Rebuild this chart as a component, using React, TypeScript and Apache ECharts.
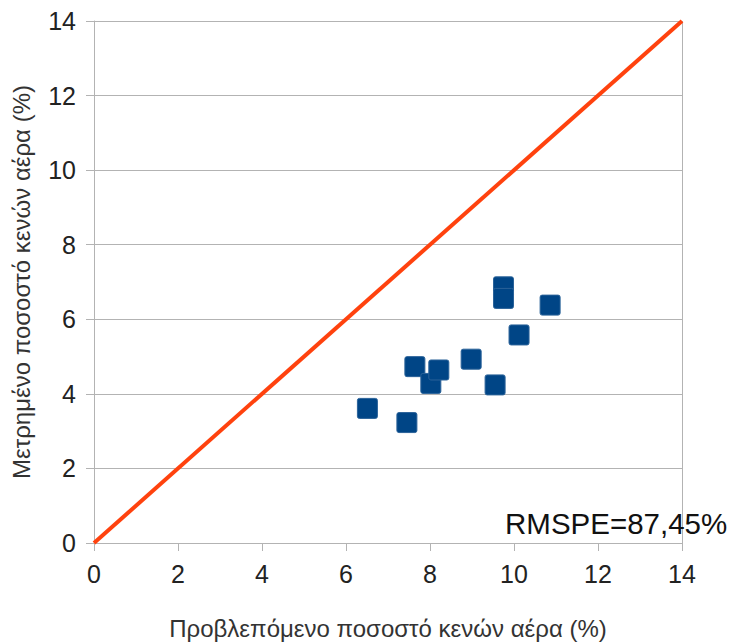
import React, { useEffect, useRef } from "react";
import * as echarts from "echarts";

const predicted = [6.51, 7.45, 7.64, 8.02, 8.21, 8.98, 9.55, 10.12, 9.75, 9.75, 10.86];
const measured = [3.61, 3.23, 4.73, 4.28, 4.64, 4.93, 4.24, 5.58, 6.87, 6.56, 6.38];
const lineX = [0, 14];
const lineY = [0, 14];
const xTitle = "Προβλεπόμενο ποσοστό κενών αέρα (%)";
const yTitle = "Μετρημένο ποσοστό κενών αέρα (%)";
const note = "RMSPE=87,45%";

export default function App() {
  const ref = useRef<HTMLDivElement>(null);
  useEffect(() => {
    const chart = echarts.init(ref.current!, null, { renderer: "svg" });
    const font = "'Liberation Sans', Arial, sans-serif";
    chart.setOption({
      animation: false,
      backgroundColor: "#ffffff",
      grid: {
        left: 94,
        right: 48,
        top: 21,
        bottom: 100,
        containLabel: false,
        outerBoundsMode: "none",
      },
      xAxis: {
        type: "value",
        min: 0,
        max: 14,
        interval: 2,
        name: xTitle,
        nameLocation: "middle",
        nameGap: 73,
        nameTextStyle: { fontFamily: font, fontSize: 24, color: "#333" },
        axisLine: { show: true, lineStyle: { color: "#b3b3b3", width: 1 } },
        axisTick: { show: true, length: 8, lineStyle: { color: "#b3b3b3" } },
        axisLabel: { fontFamily: font, fontSize: 25, color: "#222", margin: 18 },
        splitLine: { show: false },
      },
      yAxis: {
        type: "value",
        min: 0,
        max: 14,
        interval: 2,
        name: yTitle,
        nameLocation: "middle",
        nameGap: 61,
        nameTextStyle: { fontFamily: font, fontSize: 24, color: "#333" },
        axisLine: { show: true, lineStyle: { color: "#b3b3b3", width: 1 } },
        axisTick: { show: true, length: 8, lineStyle: { color: "#b3b3b3" } },
        axisLabel: { fontFamily: font, fontSize: 25, color: "#222", margin: 18 },
        splitLine: { show: true, lineStyle: { color: "#b3b3b3", width: 1 } },
      },
      series: [
        {
          type: "line",
          data: lineX.map((x, i) => [x, lineY[i]]),
          showSymbol: false,
          lineStyle: { color: "#ff420e", width: 4 },
          z: 2,
        },
        {
          type: "scatter",
          data: predicted.map((x, i) => [x, measured[i]]),
          symbol: "path://M2,0 H18 Q20,0 20,2 V18 Q20,20 18,20 H2 Q0,20 0,18 V2 Q0,0 2,0 Z",
          symbolSize: 20,
          itemStyle: { color: "#004586", opacity: 1, borderColor: "#2a6299", borderWidth: 1 },
          z: 3,
        },
      ],
      graphic: [
        {
          type: "text",
          left: 505,
          top: 508,
          style: { text: note, fontFamily: font, fontSize: 29.5, fill: "#111" },
          z: 10,
        },
        {
          type: "line",
          shape: { x1: 682.5, y1: 21, x2: 682.5, y2: 543 },
          style: { stroke: "#b3b3b3", lineWidth: 1 },
          z: 0,
        },
      ],
    });
    return () => chart.dispose();
  }, []);
  return (
    <div
      ref={ref}
      style={{ position: "fixed", left: 0, top: 0, width: 730, height: 643 }}
    />
  );
}
